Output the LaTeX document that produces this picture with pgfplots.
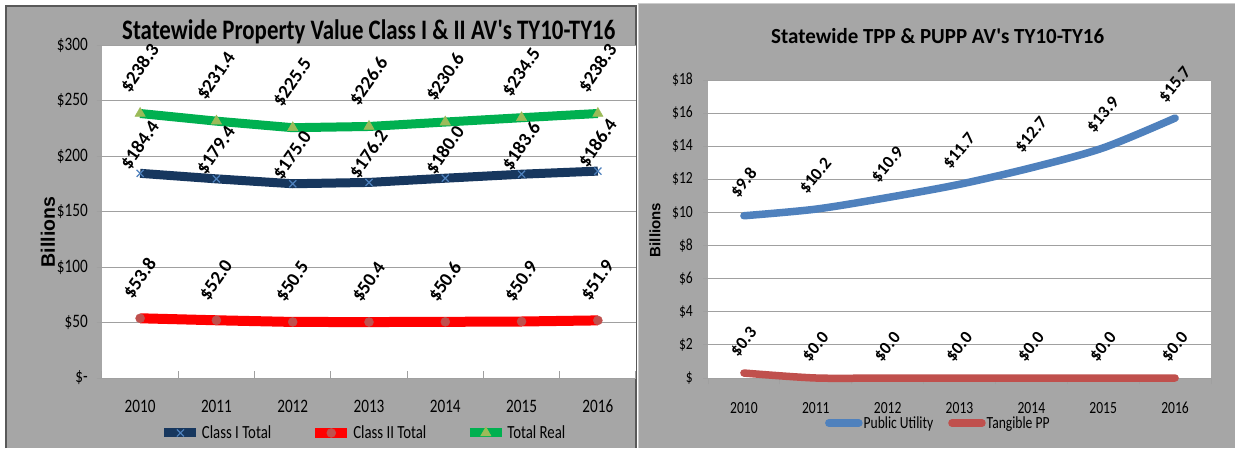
\documentclass[border=0pt]{standalone}
\usepackage{pgfplots}
\pgfplotsset{compat=1.18}
\usepackage{fontspec}
\usepackage{graphicx}
\setmainfont{Carlito}[FakeStretch=0.8]
\newfontfamily\lblfont{Carlito}
\newfontfamily\arialb{Liberation Sans}
\definecolor{bg}{HTML}{A6A6A6}
\definecolor{navy}{HTML}{17375E}
\definecolor{xblue}{HTML}{4F81BD}
\definecolor{c2red}{HTML}{FF0000}
\definecolor{c2mark}{HTML}{C0504D}
\definecolor{tgreen}{HTML}{00B050}
\definecolor{tri}{HTML}{9BBB59}
\definecolor{pu}{HTML}{4F81BD}
\definecolor{tpp}{HTML}{C0504D}
\definecolor{gridc}{HTML}{A0A0A0}

\pgfplotstableread{
x classI classII total
0 184.4 53.8 238.3
1 179.4 52.0 231.4
2 175.0 50.5 225.5
3 176.2 50.4 226.6
4 180.0 50.6 230.6
5 183.6 50.9 234.5
6 186.4 51.9 238.3
}\leftdata

\pgfplotstableread{
x pu tpp
0 9.8 0.3
1 10.2 0.0
2 10.9 0.0
3 11.7 0.0
4 12.7 0.0
5 13.9 0.0
6 15.7 0.0
}\rightdata

\begin{document}
\begin{tikzpicture}
\path[use as bounding box] (0pt,0pt) rectangle (1235pt,448pt);
\fill[white] (0pt,0pt) rectangle (1235pt,448pt);
\fill[bg] (6pt,0pt) rectangle (636pt,442pt);
\draw[gray!70!black, line width=1.2pt] (6pt,0pt) -- (6pt,442pt) -- (636pt,442pt) -- (636pt,0pt);
\fill[bg] (638pt,0pt) rectangle (1235pt,444pt);
\draw[gray!40, line width=1pt] (638pt,0pt) -- (638pt,444pt) -- (1235pt,444pt);

\begin{axis}[
  at={(102pt,70pt)}, anchor=south west,
  scale only axis, width=534pt, height=333pt,
  xmin=-0.5, xmax=6.5, ymin=0, ymax=300,
  clip=false,
  axis background/.style={fill=white},
  axis x line*=bottom, axis y line*=left,
  y axis line style={draw=none},
  x axis line style={draw=gridc, line width=1pt},
  xtick={0,1,2,3,4,5,6},
  xticklabels={2010,2011,2012,2013,2014,2015,2016},
  major x tick style={draw=none},
  minor xtick={-0.5,0.5,1.5,2.5,3.5,4.5,5.5,6.5},
  minor x tick style={draw=gridc, line width=1pt},
  minor tick length=7pt,
  xtick align=inside,
  ytick={0,50,100,150,200,250,300},
  yticklabels={\$-,\$50,\$100,\$150,\$200,\$250,\$300},
  ytick align=outside, major tick length=5pt,
  major y tick style={draw=gridc, line width=1pt},
  ymajorgrids, major grid style={draw=gridc, line width=1pt},
  yticklabel style={anchor=east, inner sep=0pt, font=\fontsize{19}{19}\selectfont},
  yticklabel shift=9pt,
  xticklabel style={anchor=base, inner sep=0pt, yshift=-34pt, font=\fontsize{19}{19}\selectfont},
  /pgf/number format/assume math mode=true,
  legend style={draw=none, fill=none, font=\fontsize{18.5}{19}\selectfont,
    at={(0.489,-0.165)}, anchor=center, inner sep=0pt,
    nodes={inner xsep=1pt, inner ysep=0pt},
    /tikz/every even column/.append style={column sep=38pt}},
  legend columns=3, legend cell align=left,
  legend image code/.code={\draw[#1, mark repeat=2, mark phase=2] plot coordinates {(0pt,0pt) (16pt,0pt) (32pt,0pt)};},
  nodes near coords={\$\pgfmathprintnumber[fixed,fixed zerofill,precision=1]{\pgfplotspointmeta}},
]
\addplot[navy, line width=9pt, mark=x, mark size=5pt,
  mark options={draw=xblue, line width=1.2pt},
  every node near coord/.append style={anchor=center, yshift=28pt, rotate=55, inner sep=0pt, text=black, font=\lblfont\bfseries\fontsize{19}{19}\selectfont}]
  table[x=x, y=classI] {\leftdata};
\addlegendentry{Class I Total}
\addplot[c2red, line width=10pt, mark=*, mark size=4.5pt,
  mark options={draw=c2mark, fill=c2mark, line width=0.5pt},
  every node near coord/.append style={anchor=center, yshift=40pt, rotate=55, inner sep=0pt, text=black, font=\lblfont\bfseries\fontsize{19}{19}\selectfont}]
  table[x=x, y=classII] {\leftdata};
\addlegendentry{Class II Total}
\addplot[tgreen, line width=9pt, mark=triangle*, mark size=6pt,
  mark options={draw=tri, fill=tri, line width=0.5pt},
  every node near coord/.append style={anchor=center, yshift=45pt, rotate=55, inner sep=0pt, text=black, font=\lblfont\bfseries\fontsize{19}{19}\selectfont}]
  table[x=x, y=total] {\leftdata};
\addlegendentry{Total Real}
\end{axis}

\begin{axis}[
  at={(708pt,70pt)}, anchor=south west,
  scale only axis, width=503pt, height=298pt,
  xmin=-0.5, xmax=6.5, ymin=0, ymax=18,
  clip=false,
  axis background/.style={fill=white},
  axis x line*=bottom, axis y line*=left,
  y axis line style={draw=none},
  x axis line style={draw=gridc, line width=1pt},
  xtick={0,1,2,3,4,5,6},
  xticklabels={2010,2011,2012,2013,2014,2015,2016},
  major x tick style={draw=none},
  minor xtick={-0.5,0.5,1.5,2.5,3.5,4.5,5.5,6.5},
  minor x tick style={draw=gridc, line width=1pt},
  minor tick length=6pt,
  xtick align=outside,
  ytick={0,2,4,6,8,10,12,14,16,18},
  yticklabels={\$,\$2,\$4,\$6,\$8,\$10,\$12,\$14,\$16,\$18},
  ytick align=outside, major tick length=5pt,
  major y tick style={draw=gridc, line width=1pt},
  ymajorgrids, major grid style={draw=gridc, line width=1pt},
  yticklabel style={anchor=east, inner sep=0pt, font=\fontsize{17}{17}\selectfont},
  yticklabel shift=10pt,
  xticklabel style={anchor=base, inner sep=0pt, yshift=-30pt, font=\fontsize{17}{17}\selectfont},
  /pgf/number format/assume math mode=true,
  legend style={draw=none, fill=none, font=\fontsize{17}{17}\selectfont,
    at={(0.457,-0.151)}, anchor=center, inner sep=0pt,
    nodes={inner xsep=1pt, inner ysep=0pt},
    /tikz/every even column/.append style={column sep=14pt}},
  legend columns=2, legend cell align=left,
  legend image code/.code={\draw[#1] (0pt,0pt) -- (30pt,0pt);},
  nodes near coords={\$\pgfmathprintnumber[fixed,fixed zerofill,precision=1]{\pgfplotspointmeta}},
]
\addplot[pu, line width=7.5pt, line cap=round, smooth, no marks,
  every node near coord/.append style={anchor=center, yshift=33pt, rotate=50, inner sep=0pt, text=black, font=\lblfont\bfseries\fontsize{17.5}{18}\selectfont}]
  table[x=x, y=pu] {\rightdata};
\addlegendentry{Public Utility}
\addplot[tpp, line width=7.5pt, line cap=round, smooth, no marks,
  every node near coord/.append style={anchor=center, yshift=31pt, rotate=50, inner sep=0pt, text=black, font=\lblfont\bfseries\fontsize{17.5}{18}\selectfont}]
  table[x=x, y=tpp] {\rightdata};
\addlegendentry{Tangible PP}
\end{axis}

% titles
\node[anchor=base west, inner sep=0pt] at (122pt,408pt) {\resizebox{493pt}{19.8pt}{\lblfont\bfseries Statewide Property Value Class I \& II AV's TY10-TY16}};
\node[anchor=base west, inner sep=0pt] at (771pt,404pt) {\resizebox{333pt}{15.1pt}{\lblfont\bfseries Statewide TPP \& PUPP AV's TY10-TY16}};
% y labels
\node[rotate=90, inner sep=0pt] at (48pt,216pt) {\arialb\bfseries\fontsize{19.5}{20}\selectfont Billions};
\node[rotate=90, inner sep=0pt] at (655pt,218pt) {\arialb\bfseries\fontsize{15}{16}\selectfont Billions};
\end{tikzpicture}
\end{document}
